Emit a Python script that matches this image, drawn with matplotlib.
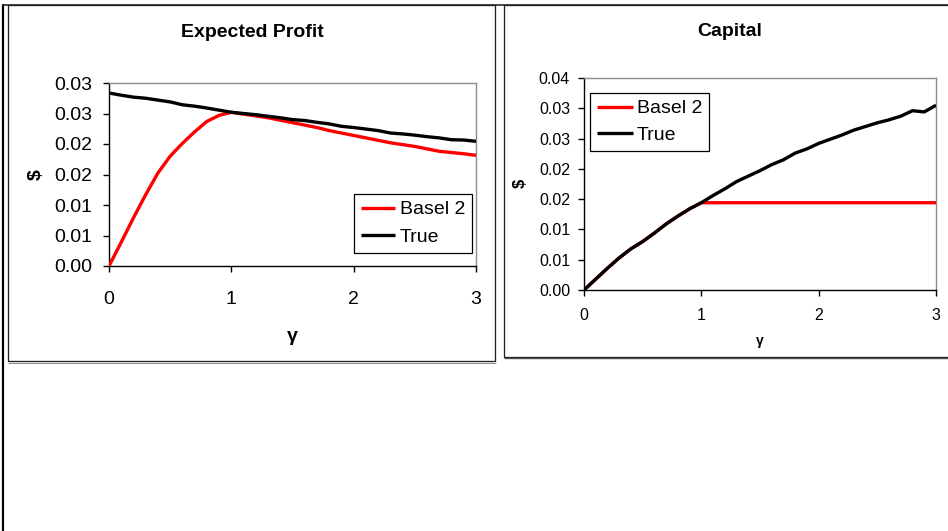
import matplotlib
matplotlib.use("Agg")
import matplotlib.pyplot as plt
from matplotlib.patches import Rectangle
from matplotlib.lines import Line2D

plt.rcParams['font.family'] = ['Liberation Sans', 'DejaVu Sans']

# gamma grid
gamma = [0.0, 0.1, 0.2, 0.3, 0.4, 0.5, 0.6, 0.7, 0.8, 0.9, 1.0,
         1.1, 1.2, 1.3, 1.4, 1.5, 1.6, 1.7, 1.8, 1.9, 2.0,
         2.1, 2.2, 2.3, 2.4, 2.5, 2.6, 2.7, 2.8, 2.9, 3.0]

# Expected profit
profit_basel2 = [0.0, 0.0039, 0.0079, 0.0117, 0.01525, 0.0180, 0.0201, 0.0220, 0.0237, 0.0247, 0.0252,
                 0.0249, 0.0246, 0.0243, 0.0239, 0.0235, 0.0231, 0.0227, 0.0222, 0.0218, 0.0214,
                 0.0210, 0.0206, 0.0202, 0.0199, 0.0196, 0.0192, 0.0188, 0.0186, 0.0184, 0.01814]
profit_true = [0.02836, 0.0280, 0.02768, 0.0275, 0.0272, 0.0269, 0.02643, 0.0262, 0.0259, 0.02555, 0.0252,
               0.0250, 0.0248, 0.02455, 0.0243, 0.0240, 0.02385, 0.02355, 0.0233, 0.0229, 0.0227,
               0.02245, 0.0222, 0.0218, 0.02165, 0.02145, 0.0212, 0.0210, 0.0207, 0.02065, 0.02044]

# Capital
capital_true = [0.0, 0.0018, 0.0036, 0.0053, 0.0068, 0.0080, 0.0094, 0.0109, 0.0122, 0.0134, 0.01441,
                0.0156, 0.0167, 0.0179, 0.0188, 0.0197, 0.0207, 0.0215, 0.0226, 0.0233, 0.0242,
                0.0249, 0.0256, 0.0264, 0.0270, 0.0276, 0.0281, 0.0287, 0.0296, 0.0294, 0.0305]
capital_cap = 0.01441
capital_basel2 = [min(v, capital_cap) for v in capital_true]

profit_yticks = [0.0, 0.005, 0.01, 0.015, 0.02, 0.025, 0.03]
profit_ylabels = ["0.00", "0.01", "0.01", "0.02", "0.02", "0.03", "0.03"]
capital_yticks = [0.0, 0.005, 0.01, 0.015, 0.02, 0.025, 0.03, 0.035]
capital_ylabels = ["0.00", "0.01", "0.01", "0.02", "0.02", "0.03", "0.03", "0.04"]
xticks = [0, 1, 2, 3]
xlabels = ["0", "1", "2", "3"]

W, H = 948, 531
fig = plt.figure(figsize=(W / 100, H / 100), dpi=100)
fig.patch.set_facecolor('white')


def fx(px):
    return px / W


def fy(py):
    return 1 - py / H


def add_axes_px(x0, y0, x1, y1):
    return fig.add_axes([fx(x0), fy(y1), (x1 - x0) / W, (y1 - y0) / H])


def style_axes(ax):
    for side in ('top', 'right'):
        ax.spines[side].set_color('#8c8c8c')
        ax.spines[side].set_linewidth(1.0)
    for side in ('left', 'bottom'):
        ax.spines[side].set_color('black')
        ax.spines[side].set_linewidth(1.0)
    ax.set_facecolor('white')


red = '#ff0000'
lw = 2.4

# ---- Expected Profit ----
ax1 = add_axes_px(109, 83, 476, 266)
ax1.plot(gamma, profit_basel2, color=red, lw=lw, label='Basel 2', zorder=3, solid_capstyle='butt')
ax1.plot(gamma, profit_true, color='black', lw=lw, label='True', zorder=4, solid_capstyle='butt')
ax1.set_xlim(0, 3)
ax1.set_ylim(0, 0.03)
ax1.set_yticks(profit_yticks)
ax1.set_yticklabels(profit_ylabels)
ax1.set_xticks(xticks)
ax1.set_xticklabels(xlabels)
ax1.tick_params(axis='y', direction='out', length=4, width=1, pad=8, labelsize=14)
ax1.tick_params(axis='x', direction='out', length=4, width=1, pad=14, labelsize=14)
style_axes(ax1)
leg1 = ax1.legend(loc='upper left', bbox_to_anchor=(fx(354), fy(194)),
                  bbox_transform=fig.transFigure, borderaxespad=0,
                  fontsize=14, handlelength=1.75, handletextpad=0.25,
                  borderpad=0.35, labelspacing=0.5, fancybox=False,
                  framealpha=1, edgecolor='black')
leg1.get_frame().set_linewidth(0.9)

# ---- Capital ----
ax2 = add_axes_px(584, 78, 936, 290)
ax2.plot(gamma, capital_basel2, color=red, lw=lw, label='Basel 2', zorder=3, solid_capstyle='butt')
ax2.plot(gamma, capital_true, color='black', lw=lw, label='True', zorder=4, solid_capstyle='butt')
ax2.set_xlim(0, 3)
ax2.set_ylim(0, 0.035)
ax2.set_yticks(capital_yticks)
ax2.set_yticklabels(capital_ylabels)
ax2.set_xticks(xticks)
ax2.set_xticklabels(xlabels)
ax2.tick_params(axis='y', direction='out', length=4, width=1, pad=6, labelsize=11.5)
ax2.tick_params(axis='x', direction='out', length=4, width=1, pad=9, labelsize=11.5)
style_axes(ax2)
leg2 = ax2.legend(loc='upper left', bbox_to_anchor=(fx(590), fy(93)),
                  bbox_transform=fig.transFigure, borderaxespad=0,
                  fontsize=14, handlelength=1.85, handletextpad=0.2,
                  borderpad=0.35, labelspacing=0.45, fancybox=False,
                  framealpha=1, edgecolor='black')
leg2.get_frame().set_linewidth(0.9)

# ---- titles and axis labels ----
fig.text(fx(252), fy(37), 'Expected Profit', ha='center', va='baseline',
         fontsize=14, fontweight='bold')
fig.text(fx(729.5), fy(36.5), 'Capital', ha='center', va='baseline',
         fontsize=14, fontweight='bold')
fig.text(fx(292.5), fy(341), 'γ', ha='center', va='baseline',
         fontsize=14, fontweight='bold')
fig.text(fx(760), fy(345), 'γ', ha='center', va='baseline',
         fontsize=10, fontweight='bold')
fig.text(fx(36), fy(175), '$', ha='center', va='center', rotation=90,
         fontsize=14, fontweight='bold')
fig.text(fx(520), fy(183), '$', ha='center', va='center', rotation=90,
         fontsize=12, fontweight='bold')

# ---- chart frames ----
def line_px(x0, y0, x1, y1, lw_px, color):
    fig.add_artist(Line2D([fx(x0), fx(x1)], [fy(y0), fy(y1)],
                          transform=fig.transFigure, color=color,
                          linewidth=lw_px * 0.72, solid_capstyle='butt'))


def rect_px(x0, y0, x1, y1, lw_px, color):
    fig.add_artist(Rectangle((fx(x0), fy(y1)), (x1 - x0) / W, (y1 - y0) / H,
                             transform=fig.transFigure, fill=False,
                             edgecolor=color, linewidth=lw_px * 0.72))


line_px(2.5, 4, 2.5, 531, 2.2, 'black')
line_px(2, 4.5, 948, 4.5, 1.6, '#202020')
rect_px(7.5, 5, 495, 361, 1.3, '#202020')
line_px(7.5, 362.5, 495.5, 362.5, 1.0, '#909090')
rect_px(503.5, 5, 952, 356.5, 1.3, '#202020')
line_px(503.5, 357.5, 948, 357.5, 1.4, '#505050')

fig.savefig('out.png', dpi=100, facecolor='white')
